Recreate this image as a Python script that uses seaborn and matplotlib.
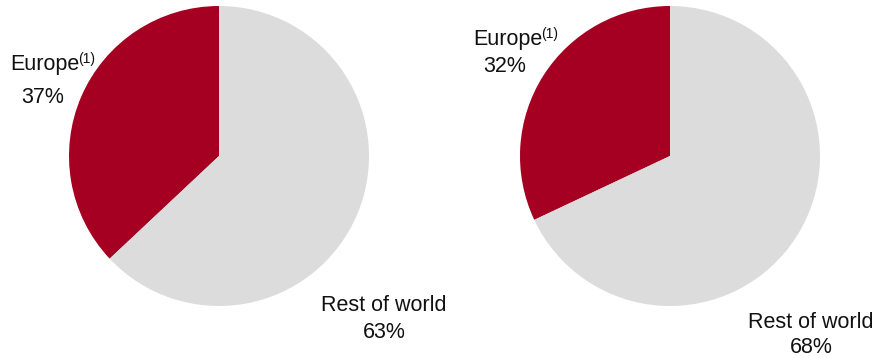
import matplotlib
matplotlib.use("Agg")
import matplotlib.pyplot as plt
import seaborn as sns

# Data
categories = ["Europe", "Rest of world"]
left_values = [37, 63]
right_values = [32, 68]
left_labels = ["37%", "63%"]
right_labels = ["32%", "68%"]

sns.set_theme(style="white")
plt.rcParams['font.family'] = ['Liberation Sans', 'DejaVu Sans']

colors = sns.color_palette(["#A50021", "#DCDCDC"])

W, H = 878, 358
fig = plt.figure(figsize=(W / 100, H / 100), dpi=100)


def add_pie(cx, cy, r, values):
    ax = fig.add_axes([(cx - r) / W, 1 - (cy + r) / H, 2 * r / W, 2 * r / H])
    ax.pie(values, colors=colors, startangle=90, counterclock=True,
           wedgeprops=dict(linewidth=0))
    ax.set_xlim(-1, 1)
    ax.set_ylim(-1, 1)
    ax.set_aspect("auto")
    ax.axis("off")
    return ax


add_pie(219, 156, 150, left_values)
add_pie(670, 156, 150, right_values)


def txt(x, y, s, size=15.5, ha="center"):
    fig.text(x / W, 1 - y / H, s, ha=ha, va="baseline", fontsize=size, color="#111111")


# Left pie labels
txt(45, 70, categories[0])
txt(78, 63, "(1)", size=10, ha="left")
txt(43, 103, left_labels[0])
txt(384, 311, categories[1])
txt(384, 338, left_labels[1])

# Right pie labels
txt(508, 45, categories[0])
txt(541, 38, "(1)", size=10, ha="left")
txt(505, 72, right_labels[0])
txt(811, 328, categories[1])
txt(811, 353, right_labels[1])

fig.savefig("out.png", dpi=100)
